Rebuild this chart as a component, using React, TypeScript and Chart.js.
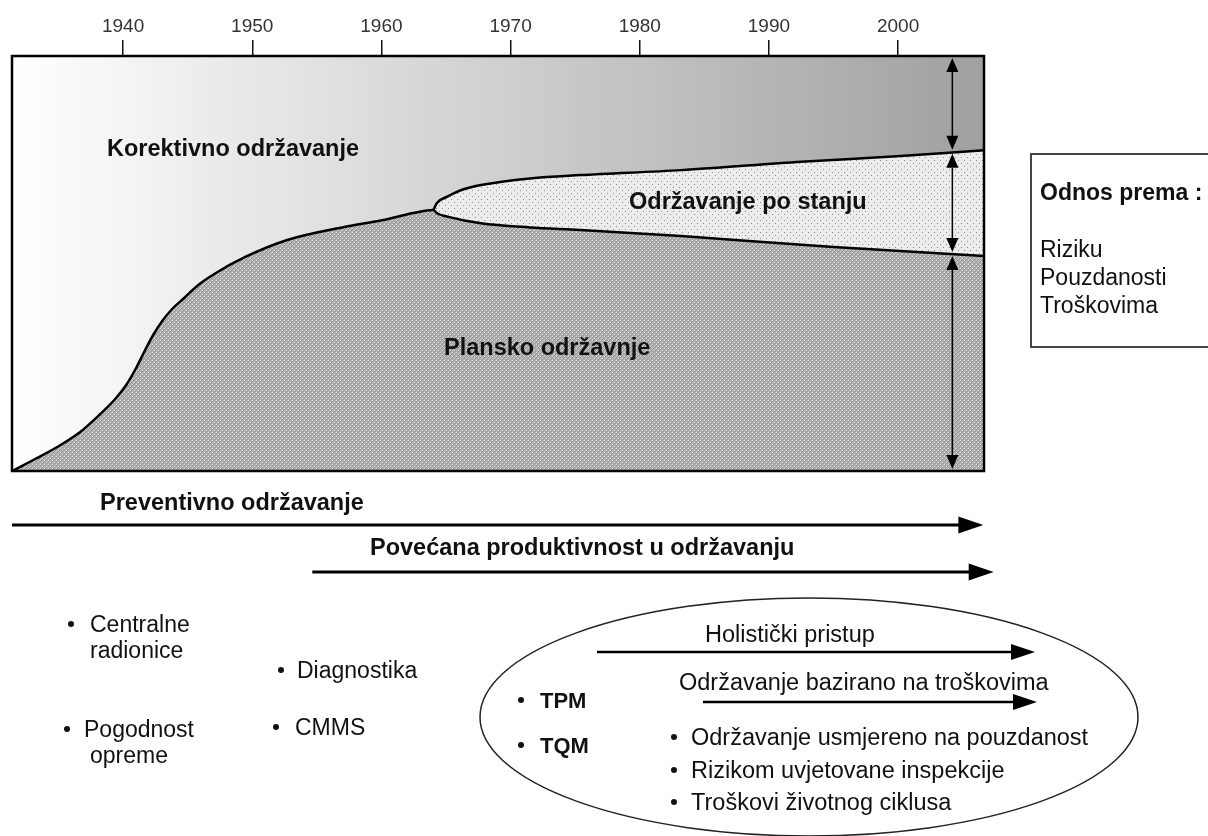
import React, { useEffect, useRef } from 'react';
import { Chart, registerables } from 'chart.js';

Chart.register(...registerables);

// ---- data ----
const tickYears = [1940, 1950, 1960, 1970, 1980, 1990, 2000];
const X_MIN = 1931.4;
const X_MAX = 2006.65;

// top boundary of "Plansko održavnje" (lower branch after the split)
const plannedYears = [1931.41, 1933.19, 1934.9, 1936.68, 1938.23, 1939.39, 1940.24, 1941.01, 1941.71, 1942.33, 1943.03, 1943.8, 1944.73, 1945.82, 1947.06, 1949.46, 1952.71, 1957.13, 1960.15, 1962.47, 1964.02, 1964.3, 1965.1, 1967.7, 1971.5, 1975.4, 1983.2, 1995.0, 2006.65];
const plannedValues = [0, 2.89, 5.78, 9.4, 13.73, 17.35, 20.72, 24.82, 29.16, 32.77, 36.14, 39.04, 41.69, 44.82, 47.47, 51.57, 55.66, 58.8, 60.48, 62.17, 62.89, 62.1, 61.3, 59.7, 58.7, 58.1, 56.6, 54.0, 51.8];

// top boundary of "Održavanje po stanju"
const conditionYears = [1964.02, 1964.3, 1965.1, 1966.1, 1967.7, 1971.5, 1975.4, 1983.2, 1992.5, 2000.2, 2006.65];
const conditionValues = [62.89, 64.6, 66.1, 67.6, 68.9, 70.5, 71.3, 72.5, 74.5, 75.9, 77.3];

// double arrows on the right of the box
const arrowYear = 2004.2;
const arrowLevels = [100, 76.9, 52.3, 0];

// timeline arrows under the box
const timelineLabels = ['Preventivno održavanje', 'Povećana produktivnost u održavanju'];
const timelineStartYears = [1931.4, 1954.65];
const timelineEndYears = [2006.6, 2007.4];

const regionLabels = ['Korektivno održavanje', 'Održavanje po stanju', 'Plansko održavnje'];
const relationTitle = 'Odnos prema :';
const relationItems = ['Riziku', 'Pouzdanosti', 'Troškovima'];
const leftBullets = ['Centralne', 'radionice', 'Pogodnost', 'opreme', 'Diagnostika', 'CMMS'];
const ellipseArrowLabels = ['Holistički pristup', 'Održavanje bazirano na troškovima'];
const ellipseBold = ['TPM', 'TQM'];
const ellipseBullets = ['Održavanje usmjereno na pouzdanost', 'Rizikom uvjetovane inspekcije', 'Troškovi životnog ciklusa'];

const FONT = "'Liberation Sans', Arial, sans-serif";

function makePattern(main: CanvasRenderingContext2D, size: number, bg: string, pts: Array<[number, number, string]>) {
  const c = document.createElement('canvas');
  c.width = size;
  c.height = size;
  const x = c.getContext('2d')!;
  x.fillStyle = bg;
  x.fillRect(0, 0, size, size);
  pts.forEach(([a, b, col]) => {
    x.fillStyle = col;
    x.fillRect(a, b, 1, 1);
  });
  return main.createPattern(c, 'repeat')!;
}

function text(ctx: CanvasRenderingContext2D, s: string, x: number, y: number, size: number, bold = false, color = '#111') {
  ctx.font = `${bold ? 'bold ' : ''}${size}px ${FONT}`;
  ctx.fillStyle = color;
  ctx.textAlign = 'left';
  ctx.textBaseline = 'alphabetic';
  ctx.fillText(s, x, y);
}

function bullet(ctx: CanvasRenderingContext2D, x: number, baseline: number) {
  ctx.beginPath();
  ctx.fillStyle = '#111';
  ctx.arc(x, baseline - 8, 3, 0, Math.PI * 2);
  ctx.fill();
}

function hArrow(ctx: CanvasRenderingContext2D, x1: number, x2: number, y: number, lw: number, hl: number, hh: number) {
  ctx.strokeStyle = '#000';
  ctx.fillStyle = '#000';
  ctx.lineWidth = lw;
  ctx.beginPath();
  ctx.moveTo(x1, y);
  ctx.lineTo(x2 - hl + 2, y);
  ctx.stroke();
  ctx.beginPath();
  ctx.moveTo(x2, y);
  ctx.lineTo(x2 - hl, y - hh);
  ctx.lineTo(x2 - hl, y + hh);
  ctx.closePath();
  ctx.fill();
}

function vDoubleArrow(ctx: CanvasRenderingContext2D, x: number, y1: number, y2: number) {
  const hl = 14, hh = 6;
  ctx.strokeStyle = '#000';
  ctx.fillStyle = '#000';
  ctx.lineWidth = 1.5;
  ctx.beginPath();
  ctx.moveTo(x, y1 + hl);
  ctx.lineTo(x, y2 - hl);
  ctx.stroke();
  ctx.beginPath();
  ctx.moveTo(x, y1);
  ctx.lineTo(x - hh, y1 + hl);
  ctx.lineTo(x + hh, y1 + hl);
  ctx.closePath();
  ctx.fill();
  ctx.beginPath();
  ctx.moveTo(x, y2);
  ctx.lineTo(x - hh, y2 - hl);
  ctx.lineTo(x + hh, y2 - hl);
  ctx.closePath();
  ctx.fill();
}

const overlay = {
  id: 'overlay',
  beforeDraw(chart: any) {
    const { ctx, chartArea: a } = chart;
    const g = ctx.createLinearGradient(a.left, 0, a.right, 0);
    g.addColorStop(0, '#ffffff');
    g.addColorStop(1, '#a0a0a0');
    ctx.save();
    ctx.fillStyle = g;
    ctx.fillRect(a.left, a.top, a.right - a.left, a.bottom - a.top);
    ctx.restore();
  },
  afterDraw(chart: any) {
    const { ctx, chartArea: a } = chart;
    const xs = chart.scales.x;
    const ys = chart.scales.y;
    ctx.save();

    // box
    ctx.strokeStyle = '#000';
    ctx.lineWidth = 2.5;
    ctx.strokeRect(a.left, a.top, a.right - a.left, a.bottom - a.top);

    // vertical double arrows
    const ax = xs.getPixelForValue(arrowYear);
    for (let i = 0; i < arrowLevels.length - 1; i++) {
      const y1 = ys.getPixelForValue(arrowLevels[i]) + 2;
      const y2 = ys.getPixelForValue(arrowLevels[i + 1]) - 2;
      vDoubleArrow(ctx, ax, y1, y2);
    }

    // region labels
    text(ctx, regionLabels[0], 107, 156, 23.5, true);
    text(ctx, regionLabels[1], 629, 209, 23.5, true);
    text(ctx, regionLabels[2], 444, 355, 23.5, true);

    // relation box
    ctx.strokeStyle = '#444';
    ctx.lineWidth = 2;
    ctx.strokeRect(1031, 154, 200, 193);
    text(ctx, relationTitle, 1040, 200, 23, true);
    relationItems.forEach((s, i) => text(ctx, s, 1040, 257 + i * 28, 23));

    // timeline arrows
    const tlY = [525, 572];
    const tlTextY = [510, 555];
    const tlTextX = [100, 370];
    timelineLabels.forEach((s, i) => {
      text(ctx, s, tlTextX[i], tlTextY[i], 23.5, true);
      hArrow(ctx, xs.getPixelForValue(timelineStartYears[i]), xs.getPixelForValue(timelineEndYears[i]), tlY[i], 3, 25, 8.5);
    });

    // left bullets
    bullet(ctx, 71, 632);
    text(ctx, leftBullets[0], 90, 632, 23);
    text(ctx, leftBullets[1], 90, 658, 23);
    bullet(ctx, 67, 737);
    text(ctx, leftBullets[2], 84, 737, 23);
    text(ctx, leftBullets[3], 90, 763, 23);
    bullet(ctx, 281, 678);
    text(ctx, leftBullets[4], 297, 678, 23);
    bullet(ctx, 276, 735);
    text(ctx, leftBullets[5], 295, 735, 23);

    // ellipse
    ctx.beginPath();
    ctx.strokeStyle = '#222';
    ctx.lineWidth = 1.5;
    ctx.ellipse(809, 717, 329, 119, 0, 0, Math.PI * 2);
    ctx.stroke();

    text(ctx, ellipseArrowLabels[0], 705, 642, 23.5);
    hArrow(ctx, 597, 1035, 652, 2.5, 24, 8);
    text(ctx, ellipseArrowLabels[1], 679, 690, 23.5);
    hArrow(ctx, 703, 1037, 702, 2.5, 24, 8);

    bullet(ctx, 521, 708);
    text(ctx, ellipseBold[0], 540, 708, 22, true);
    bullet(ctx, 521, 753);
    text(ctx, ellipseBold[1], 540, 753, 22, true);

    const eb = [745, 778, 810];
    ellipseBullets.forEach((s, i) => {
      bullet(ctx, 674, eb[i]);
      text(ctx, s, 691, eb[i], 23.5);
    });

    ctx.restore();
  },
};

export default function App() {
  const ref = useRef<HTMLCanvasElement>(null);
  useEffect(() => {
    const canvas = ref.current!;
    const ctx = canvas.getContext('2d')!;
    const plannedPattern = makePattern(ctx, 4, '#b4b4b4', [
      [0, 0, '#e2e2e2'], [2, 2, '#e2e2e2'],
      [1, 0, '#8c8c8c'], [0, 1, '#8c8c8c'], [3, 2, '#8c8c8c'], [2, 3, '#8c8c8c'],
    ]);
    const conditionPattern = makePattern(ctx, 6, '#ececec', [[1, 1, '#8f8f8f'], [4, 4, '#8f8f8f']]);

    const chart = new Chart(canvas, {
      type: 'line',
      data: {
        datasets: [
          {
            label: regionLabels[2],
            data: plannedYears.map((x, i) => ({ x, y: plannedValues[i] })),
            fill: 'origin',
            backgroundColor: plannedPattern,
            borderColor: '#000',
            borderWidth: 2.5,
            pointRadius: 0,
            cubicInterpolationMode: 'monotone',
          },
          {
            label: regionLabels[1],
            data: conditionYears.map((x, i) => ({ x, y: conditionValues[i] })),
            fill: 0,
            backgroundColor: conditionPattern,
            borderColor: '#000',
            borderWidth: 2.5,
            pointRadius: 0,
            cubicInterpolationMode: 'monotone',
          },
        ],
      },
      options: {
        responsive: false,
        animation: false,
        devicePixelRatio: 1,
        events: [],
        layout: { padding: { left: 12, right: 224, top: 0, bottom: 365 } },
        plugins: { legend: { display: false }, tooltip: { enabled: false } },
        scales: {
          x: {
            type: 'linear',
            position: 'top',
            min: X_MIN,
            max: X_MAX,
            afterBuildTicks: (s: any) => {
              s.ticks = tickYears.map((v) => ({ value: v }));
            },
            afterFit: (s: any) => {
              s.height = 56;
            },
            ticks: {
              autoSkip: false,
              maxRotation: 0,
              padding: 2,
              color: '#333',
              font: { family: FONT, size: 19 },
              callback: (v: any) => String(v),
            },
            grid: { drawOnChartArea: false, drawTicks: true, tickLength: 16, color: '#111', lineWidth: 1.5 },
            border: { display: false },
          },
          y: { display: false, min: 0, max: 100 },
        },
      },
      plugins: [overlay],
    } as any);
    return () => chart.destroy();
  }, []);
  return (
    <div style={{ position: 'absolute', left: 0, top: 0, width: 1208, height: 836 }}>
      <canvas ref={ref} width={1208} height={836} style={{ display: 'block' }} />
    </div>
  );
}
